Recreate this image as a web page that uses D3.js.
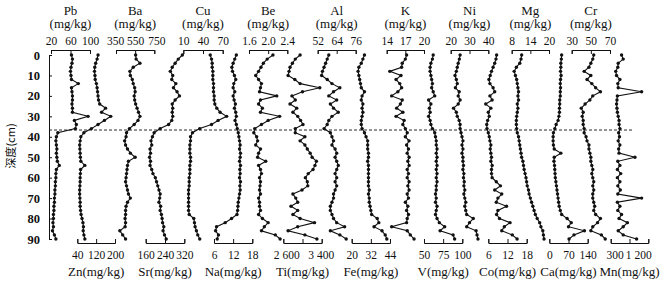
<!DOCTYPE html>
<html>
<head>
<meta charset="utf-8">
<script src="https://cdn.jsdelivr.net/npm/d3@7"></script>
<style>
  body { margin: 0; background: #fff; }
  svg text { font-family: "Liberation Serif", "Times New Roman", serif; fill: #111; }
</style>
</head>
<body>
<svg id="chart" width="664" height="284"></svg>
<script>
// sample depths (cm) and the boundary drawn as dashed line
const depths = d3.range(0, 91, 2);
const boundaryDepth = 36.7;
const depthTicks = d3.range(0, 91, 10);

// series, one value per depth (0..90 step 2)
const pb = [62, 64, 63, 61, 60, 61, 62, 76, 62, 63, 64, 64, 63, 64, 64, 96, 68, 72, 70,
  34, 31, 30, 31, 32, 31, 32, 33, 37, 31, 30, 30, 29, 29, 28, 28, 27, 27, 26, 26, 25, 25, 24, 25, 23, 27, 30];
const zn = [128, 124, 118, 114, 113, 115, 116, 121, 124, 126, 128, 130, 135, 160, 143, 182, 155, 128, 100,
  68, 55, 52, 50, 51, 52, 53, 55, 72, 54, 53, 52, 52, 51, 50, 50, 51, 52, 52, 54, 56, 60, 64, 66, 65, 68, 72];
const ba = [555, 560, 600, 530, 495, 500, 520, 530, 545, 550, 540, 545, 555, 570, 585, 600, 580, 540, 490,
  460, 455, 440, 450, 470, 500, 550, 480, 470, 465, 460, 455, 450, 460, 470, 480, 500, 470, 455, 450, 450, 445, 450, 445, 390, 420, 450];
const sr = [312, 295, 282, 270, 262, 272, 268, 285, 275, 290, 300, 282, 270, 272, 270, 272, 268, 255, 220,
  195, 188, 182, 185, 178, 180, 176, 180, 178, 185, 190, 200, 205, 210, 215, 220, 218, 215, 222, 220, 225, 228, 230, 235, 232, 238, 245];
const cu = [51, 53, 54, 54, 55, 55, 55, 56, 56, 56, 57, 57, 58, 61, 66, 76, 63, 53, 35,
  24, 21, 21, 20, 20, 20, 21, 21, 20, 20, 20, 19, 19, 19, 18, 18, 18, 18, 18, 18, 19, 26, 27, 28, 30, 32, 35];
const na = [13.0, 12.5, 12.0, 11.6, 11.8, 12.4, 12.8, 12.2, 12.0, 12.5, 12.0, 12.3, 12.7, 12.4, 12.8, 13.0, 12.6, 13.0, 13.3,
  13.6, 13.8, 14.0, 14.2, 14.0, 14.3, 14.2, 14.0, 14.3, 14.1, 14.2, 14.0, 14.3, 14.1, 14.2, 14.0, 13.8, 13.6, 13.5, 13.4, 13.2, 11.5, 9.5, 6.8, 6.5, 7.4, 7.0];
const be = [2.10, 1.98, 1.90, 1.85, 1.80, 1.74, 1.80, 1.86, 1.84, 1.82, 2.18, 1.84, 1.80, 1.88, 1.84, 2.24, 2.00, 1.86, 1.72,
  1.70, 1.76, 1.78, 1.74, 1.84, 1.80, 1.78, 1.95, 1.80, 1.84, 1.86, 1.82, 1.84, 1.83, 1.82, 1.84, 1.80, 1.82, 1.82, 1.84, 1.80, 1.88, 2.00, 1.92, 1.86, 2.15, 2.25];
const ti = [2950, 2850, 2790, 2740, 2720, 2700, 2840, 2950, 3360, 3000, 2780, 2850, 2740, 2880, 2800, 2900, 2960, 3010, 2850,
  2850, 3050, 2950, 3050, 3100, 3160, 3200, 3290, 3260, 3220, 3120, 3060, 3100, 3110, 2990, 2800, 2860, 2900, 2760, 2900, 2800, 2950, 3250, 2900, 2700, 3050, 3300];
const al = [59, 58, 57, 56, 55, 54.5, 58, 61, 66, 62, 59, 64, 60, 62, 65, 61, 59, 58, 56,
  60, 61, 62, 61, 63, 64, 63, 64, 65, 64, 63, 64, 63, 64, 63, 62, 62, 61, 60, 60, 61, 62, 64, 69, 60, 66, 70];
const fe = [28, 27, 26, 24.5, 24, 24.5, 25, 25.5, 26, 28, 26.5, 26, 27, 26.5, 27, 26.5, 26, 26, 26.5,
  28, 29, 30, 30, 30, 30.5, 30.5, 30, 30.5, 30.5, 30.5, 30.5, 30.5, 30.5, 31, 30.5, 31, 31, 31.5, 32, 32.5, 36, 37, 34, 39, 41, 42];
const k = [17.2, 17.0, 16.5, 16.4, 14.5, 16.3, 15.5, 16.1, 16.4, 15.8, 14.8, 16.5, 16.2, 15.6, 16.6, 15.5, 16.8, 16.6, 17.0,
  17.3, 17.0, 17.6, 17.2, 17.5, 17.3, 17.6, 17.4, 17.6, 17.3, 17.5, 17.3, 17.6, 17.4, 17.6, 17.3, 17.5, 17.0, 17.4, 17.2, 17.5, 17.3, 17.2, 14.8, 17.3, 17.8, 18.4];
const v = [62, 61, 59, 58, 58, 59, 60, 61, 60, 62, 64, 56, 59, 57, 58, 56, 58, 59, 61,
  64, 65, 66, 66, 67, 66, 67, 66, 67, 66, 67, 66, 67, 66, 66, 65, 66, 65, 67, 66, 65, 67, 70, 77, 71, 88, 90];
const ni = [25, 24.6, 24, 23.5, 23, 22.3, 23, 23.5, 22.5, 24.5, 24, 25, 24, 21.5, 23, 23.5, 24.5, 25, 25,
  25.5, 26, 26.5, 26, 26.5, 26, 26.5, 26.5, 26.8, 26.5, 27, 26.8, 27.2, 27, 27.5, 27, 27.5, 28, 27.5, 28, 28.5, 32, 30, 28.5, 33.5, 34, 34.5];
const co = [8.6, 8.4, 8.0, 7.5, 7.0, 6.6, 6.2, 6.5, 7.5, 8.0, 6.5, 7.2, 5.2, 6.8, 6.0, 6.3, 5.8, 5.5, 5.6,
  6.0, 6.3, 6.5, 6.8, 6.6, 6.8, 7.0, 6.8, 7.2, 7.0, 7.0, 7.2, 8.5, 9.8, 8.0, 10.2, 9.0, 8.5, 11.7, 9.0, 8.6, 9.5, 12.8, 11.0, 10.2, 13.5, 15.0];
const mg = [11.2, 11.0, 10.6, 9.5, 8.8, 9.2, 9.6, 9.8, 10.0, 10.2, 10.0, 10.2, 9.8, 10.0, 9.8, 9.6, 9.5, 9.5, 9.6,
  9.8, 10.2, 10.4, 10.6, 10.8, 11.0, 11.2, 11.6, 11.8, 12.0, 12.3, 12.6, 12.8, 13.0, 13.4, 13.6, 14.0, 14.4, 14.8, 15.2, 15.6, 16.2, 17.0, 17.4, 18.0, 18.2, 18.4];
const ca = [45, 44, 42, 42, 41, 43, 41, 40, 41, 40, 40, 38, 38, 37, 37, 35, 32, 25, 20,
  15, 14, 14, 15, 18, 42, 18, 17, 19, 20, 21, 22, 24, 26, 28, 30, 32, 34, 36, 40, 45, 65, 80, 70, 128, 90, 72];
const cr = [53, 52, 50, 48, 43, 50, 46, 51, 55, 60, 52, 49, 44, 40, 42, 41, 42, 42, 43,
  43, 45, 46, 48, 48, 49, 50, 50, 51, 52, 51, 52, 53, 52, 53, 52, 52, 53, 54, 53, 55, 60, 57, 52, 50, 61, 65];
const mn = [560, 600, 480, 470, 420, 440, 520, 470, 480, 1040, 460, 450, 440, 450, 460, 480, 500, 500, 520,
  490, 510, 480, 520, 490, 500, 880, 470, 520, 460, 540, 460, 520, 470, 530, 470, 1040, 460, 520, 470, 560, 500, 700, 600, 480, 600, 920];

// axes at the top of the plot
const topNames = ["Pb", "Ba", "Cu", "Be", "Al", "K", "Ni", "Mg", "Cr"];
const topValues = [pb, ba, cu, be, al, k, ni, mg, cr];
const topTicks = [[20, 60, 100], [350, 550, 750], [10, 40, 70], [1.6, 2.0, 2.4], [52, 64, 76],
  [14, 17, 20], [20, 30, 40], [8, 14, 20], [30, 50, 70]];
// axes at the bottom
const bottomNames = ["Zn", "Sr", "Na", "Ti", "Fe", "V", "Co", "Ca", "Mn"];
const bottomValues = [zn, sr, na, ti, fe, v, co, ca, mn];
const bottomTicks = [[40, 120, 200], [160, 240, 320], [6, 12, 18], [2600, 3000, 3400], [20, 32, 44],
  [50, 75, 100], [6, 12, 18], [0, 70, 140], [300, 750, 1200]];
const tickText = { Be: ["1.6", "2.0", "2.4"], Ti: ["2 600", "", "3 400"], Mn: ["300", "", "1 200"] };
const unit = "(mg/kg)";

// layout (pixel ranges of each little axis)
const topRange = [[51, 90], [116, 154.3], [183.3, 222.7], [249, 287.3], [317.7, 355.7],
  [386.7, 424], [450.7, 488.3], [511.7, 549], [571.7, 610]];
const bottomRange = [[77.3, 115], [145.7, 184.3], [214, 252.3], [283.3, 321.7], [351.7, 390],
  [424, 462.3], [488.3, 526.7], [549.3, 587.7], [610.7, 648.3]];
const labelShift = { Ba: [-1, 0, 2], Ti: [3, 0, -1], Mn: [4, 0, -10] };
const topAxisY = 50, bottomAxisY = 243;
const serif = "'Liberation Serif', 'Times New Roman', serif";

const svg = d3.select("#chart");
const y = d3.scaleLinear().domain([0, 90]).range([55, 239]);

// depth axis
const yAxis = svg.append("g")
  .attr("transform", "translate(49,0)")
  .call(d3.axisLeft(y).tickValues(depthTicks).tickSizeInner(-3).tickSizeOuter(-3).tickPadding(9));
yAxis.attr("font-family", null);
yAxis.selectAll("text").style("font-family", serif).style("font-size", "12.5px").style("font-weight", "bold");
yAxis.selectAll("path,line").attr("stroke", "#111");

svg.append("text")
  .attr("transform", "translate(15,146) rotate(-90)")
  .attr("text-anchor", "middle")
  .style("font-family", "'Noto Sans CJK SC', sans-serif")
  .style("font-size", "11px")
  .text("深度(cm)");

// boundary
svg.append("line")
  .attr("x1", 49).attr("x2", 633)
  .attr("y1", y(boundaryDepth)).attr("y2", y(boundaryDepth))
  .attr("stroke", "#111").attr("stroke-width", 0.9)
  .attr("stroke-dasharray", "3,2");

const line = d3.line();

function drawSeries(name, values, ticks, range, isTop) {
  const x = d3.scaleLinear().domain([ticks[0], ticks[ticks.length - 1]]).range(range);
  const labels = tickText[name] || ticks.map(String);
  const shift = labelShift[name] || [0, 0, 0];
  const axis = (isTop ? d3.axisTop(x) : d3.axisBottom(x))
    .tickValues(ticks)
    .tickFormat((d, i) => labels[i])
    .tickSizeInner(-4).tickSizeOuter(-4)
    .tickPadding(isTop ? 5 : 8);
  const g = svg.append("g")
    .attr("transform", `translate(0,${isTop ? topAxisY : bottomAxisY})`)
    .call(axis);
  g.attr("font-family", null);
  g.selectAll("path,line").attr("stroke", "#111");
  g.selectAll("text")
    .style("font-family", serif)
    .style("font-size", "11.5px")
    .attr("dx", (d, i) => shift[i]);

  const cx = (range[0] + range[1]) / 2;
  if (isTop) {
    svg.append("text").attr("x", cx).attr("y", 14.5).attr("text-anchor", "middle")
      .style("font-family", serif).style("font-size", "13px").text(name);
    svg.append("text").attr("x", cx).attr("y", 28).attr("text-anchor", "middle")
      .style("font-family", serif).style("font-size", "13px").text(unit);
  } else {
    svg.append("text").attr("x", cx).attr("y", 276).attr("text-anchor", "middle")
      .style("font-family", serif).style("font-size", "13px").text(name + unit);
  }

  const pts = depths.map((d, i) => [x(values[i]), y(d)]);
  svg.append("path")
    .attr("d", line(pts))
    .attr("fill", "none").attr("stroke", "#111").attr("stroke-width", 1.1);
  svg.append("g").selectAll("circle")
    .data(pts).join("circle")
    .attr("cx", p => p[0]).attr("cy", p => p[1]).attr("r", 1.7)
    .attr("fill", "#111");
}

topNames.forEach((n, i) => drawSeries(n, topValues[i], topTicks[i], topRange[i], true));
bottomNames.forEach((n, i) => drawSeries(n, bottomValues[i], bottomTicks[i], bottomRange[i], false));
</script>
</body>
</html>
